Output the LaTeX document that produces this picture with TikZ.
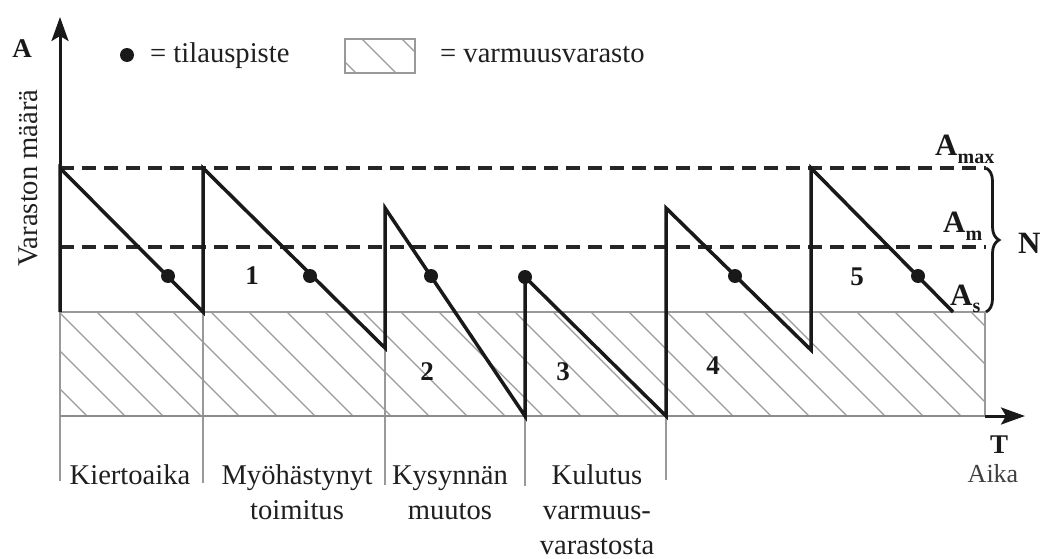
\documentclass[tikz,border=0pt]{standalone}
\usepackage{fontspec}
\setmainfont{Liberation Serif}
\usetikzlibrary{arrows.meta,decorations.pathreplacing}
\begin{document}
\begin{tikzpicture}[x=1pt,y=-1pt,
  txt/.style={inner sep=0pt, text=black!88, font=\fontsize{28.6}{35}\selectfont, align=center},
  bld/.style={inner sep=0pt, text=black!90, font=\fontsize{27}{27}\selectfont\bfseries},
  bldL/.style={inner sep=0pt, text=black!90, font=\fontsize{31}{31}\selectfont\bfseries},
  saw/.style={line width=3.5pt, draw=black!90, line join=miter},
  axisln/.style={line width=3pt, draw=black!90},
  gridln/.style={line width=1.4pt, draw=black!40},
  hatchln/.style={line width=1.2pt, draw=black!40},
  dashln/.style={line width=3.2pt, draw=black!85, dash pattern=on 14pt off 8pt},
  dotn/.style={circle, fill=black!90, inner sep=0pt, minimum size=14pt},
]
\useasboundingbox (0,0) rectangle (1046,559);

% key points
\coordinate (O) at (60,416);
\coordinate (Ytop) at (60,17);
\coordinate (Xend) at (1025,416);
\coordinate (He) at (985,416);
\coordinate (p0) at (60,312);
\coordinate (p1) at (60,168);
\coordinate (p2) at (203,312);
\coordinate (p3) at (203,168);
\coordinate (p4) at (385,348);
\coordinate (p5) at (385,208);
\coordinate (p6) at (525,416);
\coordinate (p7) at (525,277);
\coordinate (p8) at (666,416);
\coordinate (p9) at (666,208);
\coordinate (p10) at (811,350);
\coordinate (p11) at (811,168);
\coordinate (p12) at (953,312);
\coordinate (mL) at (60,247);
\coordinate (maxR) at (986,168);
\coordinate (mR) at (986,247);
\coordinate (sR) at (986,312);

% safety stock hatch
\begin{scope}
  \clip (60,312) rectangle (985,416);
  \foreach \c in {-17,21,...,1009} \draw[hatchln] (\c,312) -- ++(110,110);
\end{scope}
\draw[gridln] (60,312) -- (985,312) -- (985,416);
\foreach \x/\y in {60/481, 203/483, 385/485, 525/486, 666/480}
  \draw[gridln] (\x,312) -- (\x,\y);
\draw[line width=2.5pt, draw=black!45] (O) -- (He);

% axes
\draw[axisln, -{Stealth[length=24pt,width=17pt,inset=5pt]}] (p0) -- (Ytop);
\draw[axisln, -{Stealth[length=24pt,width=17pt,inset=5pt]}] (He) -- (Xend);

% dashed levels
\draw[dashln] (p1) -- (maxR);
\draw[dashln] (mL) -- (mR);

% brace
\draw[line width=2.8pt, draw=black!90, decorate, decoration={brace, amplitude=13pt}] (maxR) -- (sR);

% sawtooth
\draw[saw] (p0) -- (p1) -- (p2) -- (p3) -- (p4) -- (p5) -- (p6) -- (p7) -- (p8) -- (p9) -- (p10) -- (p11) -- (p12);

% order points
\node[dotn] (d1) at (168,276) {};
\node[dotn] (d2) at (310,276) {};
\node[dotn] (d3) at (431,276) {};
\node[dotn] (d4) at (p7) {};
\node[dotn] (d5) at (735,276) {};
\node[dotn] (d6) at (918,276) {};

% numbers
\node[bld] (n1) at (252,276) {1};
\node[bld] (n2) at (427,372) {2};
\node[bld] (n3) at (563,372) {3};
\node[bld] (n4) at (713,366) {4};
\node[bld] (n5) at (857,277) {5};

% right labels
\node[bldL, anchor=base west] (amax) at (935,155) {A\raisebox{-8pt}{\fontsize{20}{20}\selectfont\bfseries max}};
\node[bldL, anchor=base west] (am) at (943,232) {A\raisebox{-8pt}{\fontsize{20}{20}\selectfont\bfseries m}};
\node[bldL, anchor=base west] (as) at (950,305) {A\raisebox{-7pt}{\fontsize{20}{20}\selectfont\bfseries s}};
\node[bldL, anchor=base west] (N) at (1018,253) {N};

% axis labels
\node[bld] (ylab) at (22,49) {A};
\node[txt, rotate=90] (yname) at (28,178) {Varaston määrä};
\node[bld, anchor=base] (xlab) at (999,453) {T};
\node[txt, anchor=base, text=black!75, font=\fontsize{26}{30}\selectfont] (xname) at (993,482) {Aika};

% legend
\node[dotn] (ld) at (127,55) {};
\node[txt, anchor=base west] (lt) at (150,63) {= tilauspiste};
\begin{scope}
  \clip (345,39) rectangle (415,73);
  \foreach \c in {322,362,402} \draw[hatchln] (\c,39) -- ++(40,40);
\end{scope}
\draw[hatchln] (345,39) rectangle (415,73);
\node[txt, anchor=base west] (lh) at (440,63) {= varmuusvarasto};

% period labels (anchor base = baseline of last line)
\node[txt, anchor=base] (c1) at (130,484) {Kiertoaika};
\node[txt, anchor=base] (c2) at (297,519) {Myöhästynyt\\toimitus};
\node[txt, anchor=base] (c3) at (450,519) {Kysynnän\\muutos};
\node[txt, anchor=base] (c4) at (597,554) {Kulutus\\varmuus-\\varastosta};
\end{tikzpicture}
\end{document}
